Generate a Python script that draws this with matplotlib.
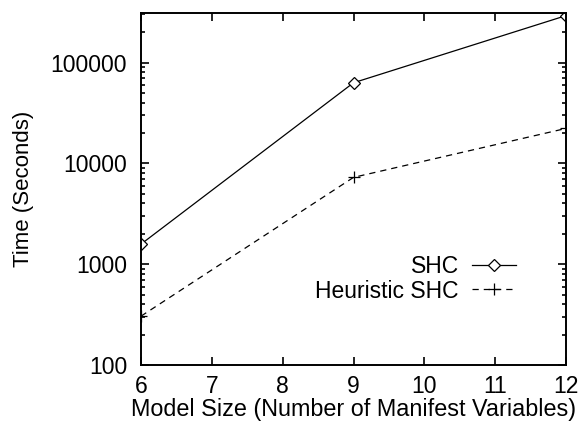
import numpy as np
import matplotlib.pyplot as plt
from matplotlib.ticker import LogLocator, NullFormatter, FixedLocator

plt.rcParams['font.family'] = ['Liberation Sans', 'DejaVu Sans']

model_size = [6, 9, 12]
shc_time = [1580, 63000, 292000]
heuristic_time = [305, 7260, 22200]


def make_plot(savefig_name='out.png'):
    fig = plt.figure(figsize=(5.78, 4.23), dpi=100)
    ax = fig.add_axes([141 / 578, 1 - 365 / 423, 425 / 578, 352 / 423])

    ax.plot(model_size, shc_time, color='k', lw=0.9, marker='D', ms=6.5,
            mfc='white', mec='k', mew=0.9, label='SHC')
    ax.plot(model_size, heuristic_time, color='k', lw=0.9, ls=(0, (5, 4)),
            marker='+', ms=9, mew=0.9, label='Heuristic SHC')

    ax.set_yscale('log')
    ax.set_xlim(6, 12)
    ax.set_ylim(100, 310000)
    ax.xaxis.set_major_locator(FixedLocator(range(6, 13)))
    ax.yaxis.set_major_locator(FixedLocator([100, 1000, 10000, 100000]))
    ax.set_yticklabels(['100', '1000', '10000', '100000'])
    ax.yaxis.set_minor_locator(LogLocator(base=10, subs=np.arange(2, 10)))
    ax.yaxis.set_minor_formatter(NullFormatter())

    ax.tick_params(which='both', direction='in', top=True, right=True,
                   labelsize=16.5, width=1.2)
    ax.tick_params(which='major', length=6)
    ax.tick_params(which='minor', length=3)
    ax.tick_params(axis='x', pad=7)
    ax.tick_params(axis='y', pad=10)
    for s in ax.spines.values():
        s.set_linewidth(1.4)

    ax.set_xlabel('Model Size (Number of Manifest Variables)', fontsize=16.8,
                  labelpad=0)
    ax.set_ylabel('Time (Seconds)', fontsize=16, labelpad=12)

    ax.legend(loc='lower right', bbox_to_anchor=(0.91, 0.145), frameon=False,
              markerfirst=False, fontsize=16.5, handlelength=1.95,
              handletextpad=0.55, labelspacing=0.05, borderpad=0)

    if savefig_name:
        fig.savefig(savefig_name, dpi=100)


if __name__ == '__main__':
    make_plot()
